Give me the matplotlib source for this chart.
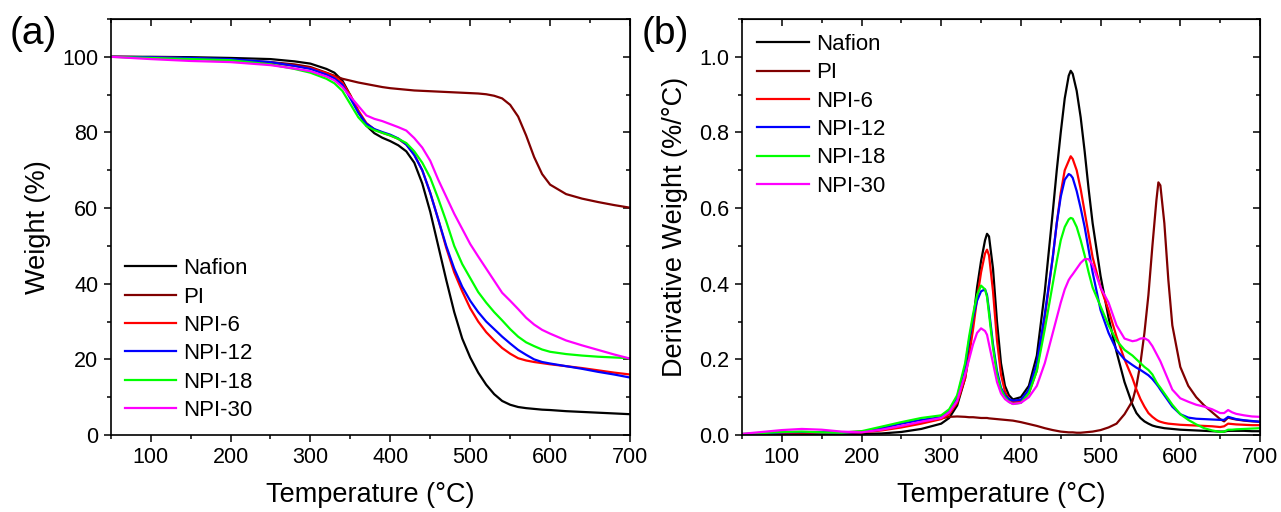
import numpy as np
import matplotlib
matplotlib.use("Agg")
import matplotlib.pyplot as plt
from matplotlib.ticker import MultipleLocator, FormatStrFormatter

plt.rcParams['font.family'] = ['Liberation Sans', 'DejaVu Sans']

names = ['Nafion', 'PI', 'NPI-6', 'NPI-12', 'NPI-18', 'NPI-30']
colors = ['#000000', '#800000', '#ff0000', '#0000ff', '#00ff00', '#ff00ff']

# ---- (a) TGA: weight (%) vs temperature
t_tga = [50, 100, 150, 200, 250, 280, 300, 320, 330, 340, 350, 360, 370, 380, 390,
         400, 410, 420, 430, 440, 450, 460, 470, 480, 490, 500, 510, 520, 530, 540,
         550, 560, 570, 580, 590, 600, 620, 640, 660, 680, 700]
nafion_w = [100.0, 100.0, 99.9, 99.7, 99.4, 98.8, 98.2, 96.8, 95.8, 93.7, 89.8, 85.5, 81.8, 79.8, 78.6,
            77.7, 76.6, 75.0, 72.0, 66.5, 59.0, 50.0, 41.0, 32.5, 25.5, 20.5, 16.5, 13.3, 10.8, 9.0,
            8.0, 7.4, 7.1, 6.9, 6.7, 6.6, 6.3, 6.1, 5.9, 5.7, 5.5]
pi_w = [100.0, 99.9, 99.6, 99.2, 98.6, 98.0, 97.3, 95.8, 95.0, 94.2, 93.7, 93.2, 92.8, 92.4, 92.0,
        91.7, 91.5, 91.3, 91.1, 91.0, 90.9, 90.8, 90.7, 90.6, 90.5, 90.4, 90.3, 90.1, 89.7, 89.0,
        87.3, 84.2, 79.2, 73.5, 69.0, 66.2, 63.7, 62.5, 61.6, 60.8, 60.1]
npi6_w = [100.0, 99.9, 99.6, 99.2, 98.5, 97.6, 97.0, 95.7, 94.8, 93.2, 89.8, 85.8, 82.5, 80.8, 79.9,
          79.2, 78.3, 76.8, 74.2, 70.0, 64.0, 57.0, 49.5, 43.0, 38.0, 33.5, 30.0, 27.2, 25.0, 23.0,
          21.5, 20.3, 19.7, 19.3, 19.0, 18.7, 18.2, 17.7, 17.1, 16.5, 16.0]
npi12_w = [100.0, 99.9, 99.7, 99.4, 98.6, 97.6, 96.8, 95.3, 94.3, 92.6, 89.0, 85.2, 82.3, 80.9, 80.1,
           79.4, 78.4, 76.8, 74.0, 70.0, 64.0, 57.0, 50.0, 44.0, 39.2, 35.5, 32.5, 30.0, 28.0, 26.0,
           24.2, 22.5, 21.2, 20.0, 19.3, 18.9, 18.2, 17.5, 16.7, 16.0, 15.2]
npi18_w = [100.0, 99.7, 99.4, 99.1, 98.0, 96.8, 95.8, 94.2, 93.0, 91.0, 87.5, 84.0, 81.7, 80.6, 79.9,
           79.2, 78.3, 77.2, 75.0, 72.0, 68.0, 62.5, 56.5, 50.0, 45.2, 41.5, 37.8, 35.0, 32.5, 30.3,
           28.0, 26.0, 24.5, 23.5, 22.6, 22.0, 21.4, 21.0, 20.7, 20.5, 20.3]
npi30_w = [100.0, 99.4, 98.9, 98.6, 97.8, 96.9, 96.2, 94.8, 93.8, 92.0, 89.5, 87.0, 84.5, 83.6, 83.0,
           82.2, 81.4, 80.5, 78.5, 76.0, 72.5, 67.5, 63.0, 58.5, 54.5, 50.5, 47.2, 44.0, 40.8, 37.6,
           35.5, 33.3, 31.0, 29.2, 27.8, 26.8, 25.0, 23.7, 22.5, 21.3, 20.2]

# ---- (b) DTG: derivative weight (%/°C) vs temperature
t_dtg = [50, 75, 100, 125, 150, 175, 200, 225, 250, 275,
         300, 310, 320, 330,
         335, 340, 345, 350, 355, 357.5, 360, 365, 370, 375, 380, 385,
         390,
         400, 410, 420, 430, 440,
         445, 450, 455, 460, 462.5, 465, 470, 475, 480, 485, 490,
         500, 510, 520, 530, 540,
         545, 550, 555, 560, 565, 570, 572.5, 575, 580, 585, 590,
         600, 610, 620, 630, 640, 650,
         655, 660, 665, 670,
         680, 690, 700]
nafion_d = [0.002, 0.002, 0.002, 0.002, 0.002, 0.002, 0.003, 0.004, 0.008, 0.016,
            0.030, 0.045, 0.078, 0.15,
            0.22, 0.30, 0.39, 0.46, 0.515, 0.532, 0.525, 0.44, 0.30, 0.19, 0.13, 0.105,
            0.094,
            0.10, 0.13, 0.21, 0.38, 0.59,
            0.70, 0.80, 0.89, 0.95, 0.963, 0.955, 0.91, 0.84, 0.75, 0.65, 0.56,
            0.42, 0.31, 0.22, 0.14, 0.08,
            0.058, 0.045, 0.036, 0.030, 0.025, 0.022, 0.021, 0.020, 0.018, 0.017, 0.016,
            0.014, 0.013, 0.012, 0.011, 0.010, 0.009,
            0.009, 0.011, 0.011, 0.011,
            0.011, 0.010, 0.010]
pi_d = [0.002, 0.003, 0.004, 0.005, 0.006, 0.007, 0.009, 0.014, 0.022, 0.033,
        0.044, 0.048, 0.049, 0.048,
        0.047, 0.047, 0.046, 0.045, 0.045, 0.045, 0.044, 0.043, 0.042, 0.041, 0.040, 0.039,
        0.038,
        0.034, 0.029, 0.024, 0.018, 0.013,
        0.011, 0.009, 0.008, 0.007, 0.007, 0.007, 0.006, 0.006, 0.007, 0.008, 0.009,
        0.013, 0.020, 0.030, 0.055, 0.09,
        0.13, 0.19, 0.27, 0.37, 0.50, 0.62, 0.668, 0.66, 0.56, 0.41, 0.29,
        0.18, 0.13, 0.10, 0.078, 0.060, 0.042,
        0.036, 0.046, 0.043, 0.041,
        0.038, 0.036, 0.035]
npi6_d = [0.002, 0.004, 0.006, 0.007, 0.006, 0.005, 0.007, 0.012, 0.020, 0.030,
          0.042, 0.055, 0.085, 0.15,
          0.21, 0.28, 0.36, 0.43, 0.48, 0.49, 0.475, 0.38, 0.25, 0.16, 0.115, 0.095,
          0.087,
          0.088, 0.11, 0.17, 0.31, 0.47,
          0.56, 0.64, 0.70, 0.725, 0.737, 0.73, 0.70, 0.65, 0.59, 0.53, 0.47,
          0.39, 0.33, 0.26, 0.20, 0.15,
          0.12, 0.095, 0.075, 0.058, 0.048, 0.040, 0.037, 0.035, 0.032, 0.030, 0.029,
          0.027, 0.026, 0.025, 0.024, 0.023, 0.021,
          0.023, 0.030, 0.029, 0.028,
          0.027, 0.026, 0.026]
npi12_d = [0.002, 0.004, 0.007, 0.008, 0.007, 0.006, 0.008, 0.018, 0.030, 0.040,
           0.047, 0.062, 0.10, 0.18,
           0.25, 0.31, 0.355, 0.38, 0.385, 0.37, 0.33, 0.24, 0.17, 0.125, 0.105, 0.095,
           0.091,
           0.093, 0.12, 0.19, 0.32, 0.47,
           0.56, 0.63, 0.675, 0.69, 0.687, 0.68, 0.645, 0.60, 0.55, 0.49, 0.43,
           0.33, 0.27, 0.225, 0.20, 0.185,
           0.178, 0.172, 0.165, 0.158, 0.148, 0.135, 0.128, 0.12, 0.105, 0.09, 0.075,
           0.055, 0.046, 0.043, 0.042, 0.041, 0.040,
           0.040, 0.048, 0.045, 0.042,
           0.039, 0.037, 0.035]
npi18_d = [0.003, 0.005, 0.008, 0.009, 0.007, 0.006, 0.010, 0.022, 0.034, 0.045,
           0.052, 0.068, 0.105, 0.19,
           0.26, 0.32, 0.37, 0.395, 0.385, 0.365, 0.32, 0.23, 0.16, 0.12, 0.10, 0.088,
           0.082,
           0.085, 0.11, 0.17, 0.28, 0.40,
           0.46, 0.515, 0.55, 0.57, 0.574, 0.572, 0.55, 0.515, 0.475, 0.43, 0.39,
           0.34, 0.29, 0.25, 0.225, 0.21,
           0.20, 0.19, 0.18, 0.172, 0.16, 0.14, 0.132, 0.125, 0.11, 0.095, 0.08,
           0.055, 0.040, 0.028, 0.018, 0.012, 0.008,
           0.009, 0.014, 0.014, 0.015,
           0.016, 0.017, 0.018]
npi30_d = [0.003, 0.008, 0.013, 0.016, 0.014, 0.009, 0.007, 0.014, 0.024, 0.035,
           0.045, 0.060, 0.09, 0.16,
           0.20, 0.24, 0.27, 0.282, 0.275, 0.265, 0.24, 0.19, 0.14, 0.11, 0.095, 0.087,
           0.082,
           0.085, 0.10, 0.13, 0.19, 0.27,
           0.31, 0.35, 0.385, 0.41, 0.418, 0.425, 0.44, 0.455, 0.465, 0.465, 0.45,
           0.39, 0.35, 0.29, 0.255, 0.248,
           0.25, 0.255, 0.256, 0.25, 0.235, 0.215, 0.205, 0.195, 0.17, 0.145, 0.12,
           0.097, 0.088, 0.080, 0.075, 0.068, 0.058,
           0.058, 0.066, 0.060, 0.056,
           0.052, 0.049, 0.048]

tga = [nafion_w, pi_w, npi6_w, npi12_w, npi18_w, npi30_w]
dtg = [nafion_d, pi_d, npi6_d, npi12_d, npi18_d, npi30_d]

fig = plt.figure(figsize=(12.81, 5.12), dpi=100)
ax1 = fig.add_axes([0.0864, 0.1504, 0.4054, 0.8125])
ax2 = fig.add_axes([0.5792, 0.1504, 0.4044, 0.8125])


def style(ax, ymax, ymaj, ymin, ylabel):
    ax.set_xlim(50, 700)
    ax.set_ylim(0, ymax)
    ax.xaxis.set_major_locator(MultipleLocator(100))
    ax.xaxis.set_minor_locator(MultipleLocator(50))
    ax.yaxis.set_major_locator(MultipleLocator(ymaj))
    ax.yaxis.set_minor_locator(MultipleLocator(ymin))
    for s in ax.spines.values():
        s.set_linewidth(1.2)
    ax.tick_params(which='both', direction='out', width=1.1, labelsize=15.5, pad=4)
    ax.tick_params(which='major', length=5)
    ax.tick_params(which='minor', length=3)
    # inward mirror ticks on top and right
    top = ax.secondary_xaxis('top')
    top.xaxis.set_major_locator(MultipleLocator(100))
    top.xaxis.set_minor_locator(MultipleLocator(50))
    top.tick_params(which='both', direction='in', width=1.1, labeltop=False)
    top.tick_params(which='major', length=5)
    top.tick_params(which='minor', length=3)
    right = ax.secondary_yaxis('right')
    right.yaxis.set_major_locator(MultipleLocator(ymaj))
    right.yaxis.set_minor_locator(MultipleLocator(ymin))
    right.tick_params(which='both', direction='in', width=1.1, labelright=False)
    right.tick_params(which='major', length=5)
    right.tick_params(which='minor', length=3)
    ax.set_xlabel('Temperature (°C)', fontsize=19.5, labelpad=10)
    ax.set_ylabel(ylabel, fontsize=19.5, labelpad=8)


for name, c, w in zip(names, colors, tga):
    ax1.plot(t_tga, w, color=c, lw=1.6, label=name)
style(ax1, 110, 20, 10, 'Weight (%)')
ax1.legend(loc='upper left', bbox_to_anchor=(0.028, 0.425), frameon=False,
           fontsize=16, handlelength=2.3, handletextpad=0.32, labelspacing=0.33,
           borderpad=0, borderaxespad=0)

for name, c, d in zip(names, colors, dtg):
    ax2.plot(t_dtg, d, color=c, lw=1.6, label=name)
style(ax2, 1.1, 0.2, 0.1, 'Derivative Weight (%/°C)')
ax2.yaxis.set_major_formatter(FormatStrFormatter('%.1f'))
ax2.legend(loc='upper left', bbox_to_anchor=(0.03, 0.964), frameon=False,
           fontsize=16, handlelength=2.3, handletextpad=0.32, labelspacing=0.33,
           borderpad=0, borderaxespad=0)

fig.text(10 / 1281, 1 - 16 / 512, '(a)', fontsize=28, va='top', ha='left')
fig.text(642 / 1281, 1 - 16 / 512, '(b)', fontsize=28, va='top', ha='left')

fig.savefig('out.png', dpi=100)
